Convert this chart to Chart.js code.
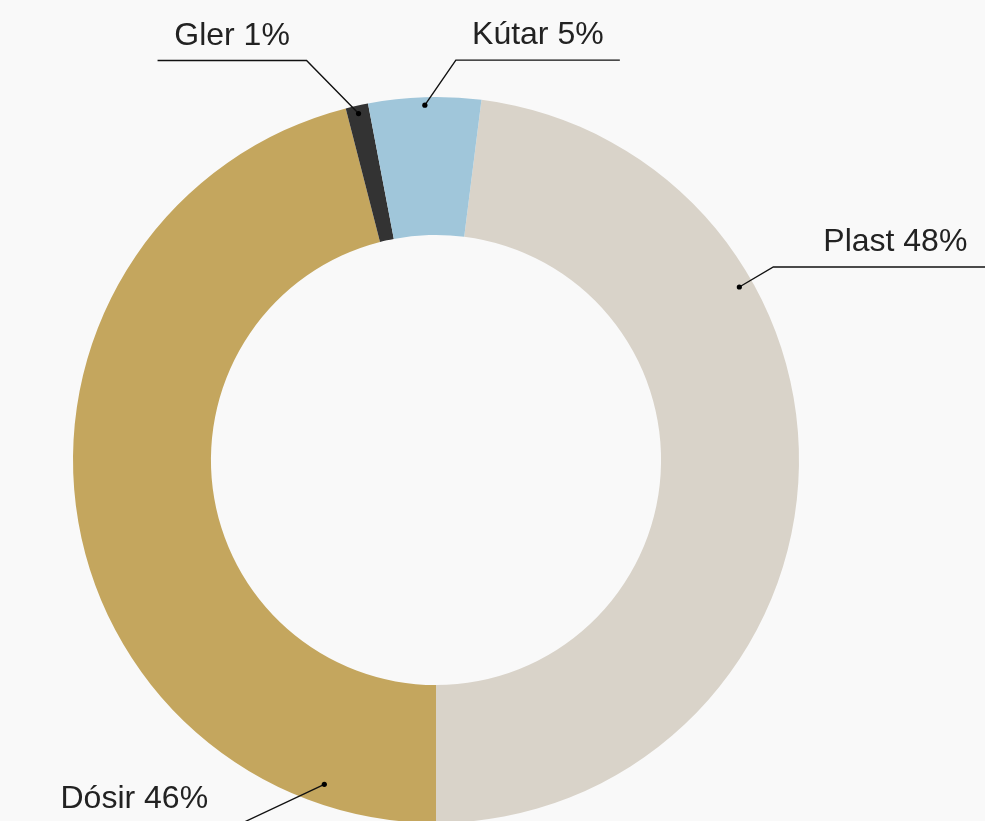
<!DOCTYPE html>
<html lang="is">
<head>
  <meta charset="UTF-8">
  <title>Skipting umbúða</title>
  <script src="https://cdn.jsdelivr.net/npm/chart.js"></script>
  <style>
    html, body {
      margin: 0;
      padding: 0;
      background-color: #f9f9f9;
      overflow: hidden;
    }
    .chart-container {
      position: relative;
      width: 985px;
      height: 830px;
    }
  </style>
</head>
<body>
  <div class="chart-container">
    <canvas id="umbudirChart"></canvas>
  </div>
  <script>
    // Gögn
    var flokkar = ['Plast', 'Dósir', 'Gler', 'Kútar'];
    var hlutfall = [48, 46, 1, 5];
    var litir = ['#d9d3c9', '#c4a65e', '#333333', '#a0c6da'];

    // Staðsetning merkinga: horn (gráður frá toppi, null = miðja sneiðar),
    // radíushlutfall, brot í línu og lengd láréttrar línu
    var merkingar = [
      { horn: 60.3, r: 0.962, dx: 34, dy: -20, lengd: 244 },
      { horn: 199, r: 0.945, dx: -85, dy: 40, lengd: -210 },
      { horn: null, r: 0.978, dx: -52, dy: -53, lengd: -149 },
      { horn: null, r: 0.978, dx: 31, dy: -45, lengd: 164 }
    ];

    var merkiPlugin = {
      id: 'merki',
      afterDatasetsDraw: function(chart) {
        var ctx = chart.ctx;
        var meta = chart.getDatasetMeta(0);
        ctx.save();
        meta.data.forEach(function(arc, i) {
          var m = merkingar[i];
          var p = arc.getProps(['x', 'y', 'startAngle', 'endAngle', 'outerRadius']);
          var a = m.horn === null ? (p.startAngle + p.endAngle) / 2 : (m.horn - 90) * Math.PI / 180;
          var rad = p.outerRadius * m.r;
          var x0 = p.x + Math.cos(a) * rad;
          var y0 = p.y + Math.sin(a) * rad;
          var x1 = x0 + m.dx;
          var y1 = y0 + m.dy;
          var x2 = x1 + m.lengd;

          ctx.strokeStyle = '#111';
          ctx.lineWidth = 1.4;
          ctx.beginPath();
          ctx.moveTo(x0, y0);
          ctx.lineTo(x1, y1);
          ctx.lineTo(x2, y1);
          ctx.stroke();

          ctx.fillStyle = '#000';
          ctx.beginPath();
          ctx.arc(x0, y0, 2.6, 0, Math.PI * 2);
          ctx.fill();

          ctx.fillStyle = '#222';
          ctx.font = '32px "Liberation Sans", Arial, sans-serif';
          ctx.textAlign = 'center';
          ctx.textBaseline = 'alphabetic';
          ctx.fillText(flokkar[i] + ' ' + hlutfall[i] + '%', (x1 + x2) / 2, y1 - 16);
        });
        ctx.restore();
      }
    };

    var ctx = document.getElementById('umbudirChart').getContext('2d');
    var umbudirChart = new Chart(ctx, {
      type: 'doughnut',
      data: {
        labels: flokkar,
        datasets: [{
          data: hlutfall,
          backgroundColor: litir,
          borderWidth: 0,
          hoverOffset: 0
        }]
      },
      options: {
        responsive: true,
        maintainAspectRatio: false,
        animation: false,
        rotation: 7.2,
        cutout: '62%',
        layout: {
          padding: { left: 73, right: 186, top: 97, bottom: 7 }
        },
        plugins: {
          legend: { display: false },
          tooltip: { enabled: false }
        }
      },
      plugins: [merkiPlugin]
    });
  </script>
</body>
</html>
